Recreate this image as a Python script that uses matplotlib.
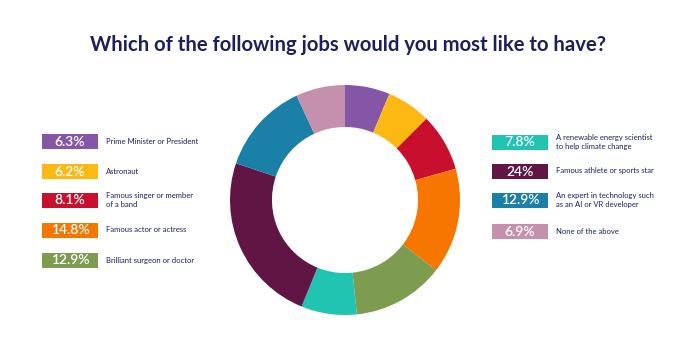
import matplotlib.pyplot as plt
from matplotlib.patches import Rectangle

jobs = ['Prime Minister or President', 'Astronaut', 'Famous singer or member\nof a band',
        'Famous actor or actress', 'Brilliant surgeon or doctor',
        'A renewable energy scientist\nto help climate change', 'Famous athlete or sports star',
        'An expert in technology such\nas an AI or VR developer', 'None of the above']
shares = [6.3, 6.2, 8.1, 14.8, 12.9, 7.8, 24, 12.9, 6.9]
labels_pct = ['6.3%', '6.2%', '8.1%', '14.8%', '12.9%', '7.8%', '24%', '12.9%', '6.9%']
colours = ['#8656a6', '#fdb913', '#c8102e', '#f67600', '#7d9c4f',
           '#20c4b1', '#611545', '#1b80a8', '#c490ae']

W, H = 697, 349
fig = plt.figure(figsize=(W / 100, H / 100), dpi=100)
navy = '#1b1f5c'

# donut
ax = fig.add_axes([230 / W, (H - 315) / H, 230 / W, 230 / H])
ax.pie(shares, colors=colours, startangle=90, counterclock=False,
       radius=1, wedgeprops=dict(width=0.365, linewidth=0))
ax.set_xlim(-1, 1)
ax.set_ylim(-1, 1)
ax.set_aspect('equal')
ax.axis('off')

# legend in pixel coords
lg = fig.add_axes([0, 0, 1, 1])
lg.set_xlim(0, W)
lg.set_ylim(H, 0)
lg.axis('off')

left_rows = [141, 171, 200, 230, 260]
right_rows = [142, 171, 200, 231]
pos = [(42, y) for y in left_rows] + [(492, y) for y in right_rows]
for (x, y), pct, job, c in zip(pos, labels_pct, jobs, colours):
    lg.add_patch(Rectangle((x, y - 7.5), 56, 15, color=c, linewidth=0))
    lg.text(x + 28, y + 0.5, pct, color='white', fontsize=10, fontweight='semibold',
            ha='center', va='center', family='Lato')
    lg.text(x + 64, y, job, color=navy, fontsize=5.5, ha='left', va='center',
            family='Lato', linespacing=1.25)

lg.text(348, 45, 'Which of the following jobs would you most like to have?',
        color=navy, fontsize=14.6, fontweight='bold', ha='center', va='center',
        family='Lato')

fig.savefig('out.png', dpi=100, facecolor='white')
